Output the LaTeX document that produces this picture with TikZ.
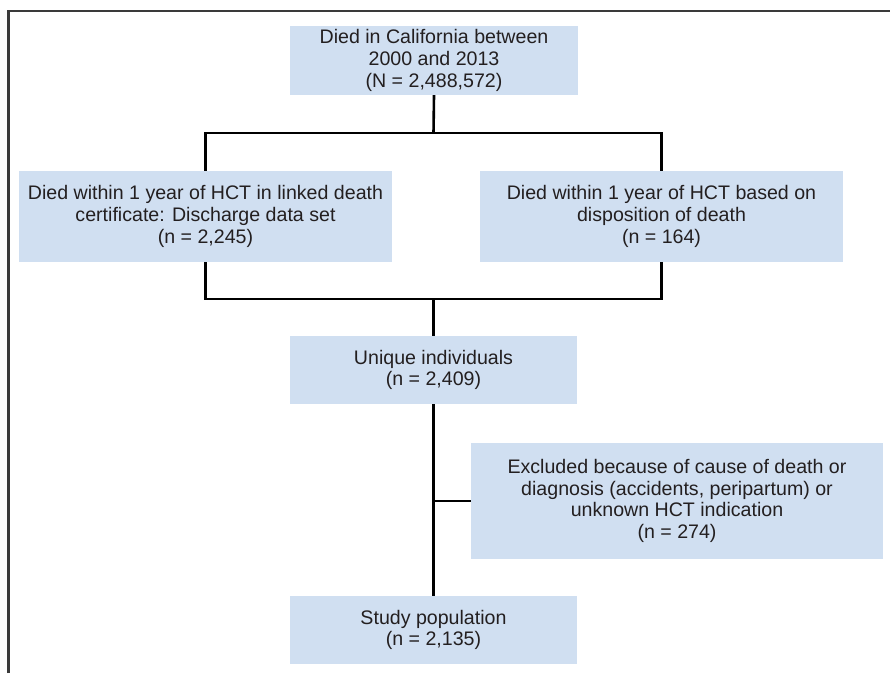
\documentclass[tikz,border=0pt]{standalone}
\usepackage{fontspec}
\setmainfont{Liberation Sans}
\begin{document}
\begin{tikzpicture}[x=1pt,y=1pt,
  box/.style={fill=boxblue, draw=none, inner sep=0pt, align=center, text=txt,
    font=\fontsize{19.6}{21.6}\selectfont},
  conn/.style={draw=black, line width=2.6pt}]
\definecolor{boxblue}{HTML}{D0DFF1}
\definecolor{txt}{HTML}{231F20}
\definecolor{frame}{HTML}{3A3A3A}
\useasboundingbox (0,0) rectangle (890,-673);
\draw[frame, line width=2.2pt] (8.5,-673) -- (8.5,-11) -- (890,-11);
\coordinate (b1) at (433.5,-133);
\coordinate (b2) at (433.5,-299);
\node[box, minimum width=288, minimum height=69] (top) at (434,-60.5)
  {Died in California between\\2000 and 2013\\(N = 2,488,572)};
\node[box, minimum width=373, minimum height=91] (left) at (205.5,-216.5)
  {Died within 1 year of HCT in linked death\\certificate: Discharge data set\\(n = 2,245)};
\node[box, minimum width=363, minimum height=91] (right) at (661.5,-216.5)
  {Died within 1 year of HCT based on\\disposition of death\\(n = 164)};
\node[box, minimum width=287, minimum height=68] (uniq) at (433.5,-370)
  {Unique individuals\\(n = 2,409)};
\node[box, minimum width=412, minimum height=116] (excl) at (677,-501)
  {Excluded because of cause of death or\\diagnosis (accidents, peripartum) or\\unknown HCT indication\\(n = 274)};
\node[box, minimum width=287, minimum height=68] (study) at (433.5,-630)
  {Study population\\(n = 2,135)};
\draw[conn] (top.south) -- (b1);
\draw[conn] (left.north) |- (b1) -| (right.north);
\draw[conn] (left.south) |- (b2) -| (right.south);
\draw[conn] (b2) -- (uniq.north);
\draw[conn] (uniq.south) -- (study.north);
\draw[conn] (excl.west) -- (excl.west -| uniq.south);
\end{tikzpicture}
\end{document}
